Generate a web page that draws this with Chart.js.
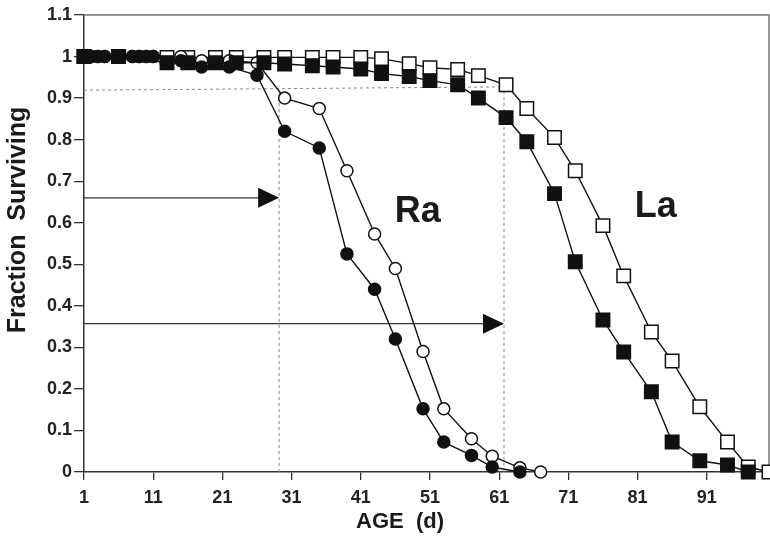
<!DOCTYPE html>
<html lang="en">
<head>
<meta charset="UTF-8">
<title>Fraction Surviving</title>
<script src="https://cdn.jsdelivr.net/npm/chart.js"></script>
<style>
    html, body { margin: 0; padding: 0; background: #fff; }
    #wrap { width: 770px; height: 538px; }
</style>
</head>
<body>
<div id="wrap"><canvas id="survival" width="770" height="538"></canvas></div>
<script>
// Ra = circles, La = squares; filled and open symbols are the two groups
const raFilledDays = [1, 2, 3, 4, 8, 9, 10, 11, 15, 18, 22, 26, 30, 35, 39, 43, 46, 50, 53, 57, 60, 64];
const raFilledSurv = [1, 1, 1, 1, 1, 1, 1, 1, 0.99, 0.975, 0.975, 0.955, 0.82, 0.78, 0.525, 0.44, 0.32, 0.152, 0.072, 0.04, 0.012, 0];

const raOpenDays = [1, 2, 3, 4, 8, 9, 10, 11, 15, 18, 22, 26, 30, 35, 39, 43, 46, 50, 53, 57, 60, 64, 67];
const raOpenSurv = [1, 1, 1, 1, 1, 1, 1, 1, 1, 0.99, 0.99, 0.985, 0.9, 0.875, 0.725, 0.573, 0.49, 0.29, 0.152, 0.08, 0.038, 0.01, 0];

const laFilledDays = [1, 6, 13, 16, 20, 23, 27, 30, 34, 37, 41, 44, 48, 51, 55, 58, 62, 65, 69, 72, 76, 79, 83, 86, 90, 94, 97];
const laFilledSurv = [1, 1, 0.985, 0.985, 0.985, 0.985, 0.985, 0.982, 0.978, 0.975, 0.97, 0.959, 0.952, 0.942, 0.932, 0.9, 0.853, 0.795, 0.67, 0.506, 0.366, 0.289, 0.193, 0.072, 0.027, 0.017, 0];

const laOpenDays = [1, 6, 13, 16, 20, 23, 27, 30, 34, 37, 41, 44, 48, 51, 55, 58, 62, 65, 69, 72, 76, 79, 83, 86, 90, 94, 97, 100];
const laOpenSurv = [1, 1, 0.998, 0.998, 0.998, 0.998, 0.998, 0.998, 0.998, 0.998, 0.998, 0.995, 0.983, 0.973, 0.969, 0.954, 0.932, 0.875, 0.805, 0.725, 0.593, 0.472, 0.337, 0.267, 0.157, 0.072, 0.012, 0];

const xTicks = [1, 11, 21, 31, 41, 51, 61, 71, 81, 91];
const yTicks = [0, 0.1, 0.2, 0.3, 0.4, 0.5, 0.6, 0.7, 0.8, 0.9, 1, 1.1];

// dashed guides [x1, y1, x2, y2] and arrows [xStart, y, xTip], in data units
const guideLines = [[1, 0.919, 61.7, 0.927], [29.2, 0, 29.2, 0.919], [61.7, 0, 61.7, 0.927]];
const arrows = [[1, 0.66, 29.2], [1, 0.357, 61.7]];

const groupLabels = [['Ra', 45.9, 0.602], ['La', 80.6, 0.614]];
const xTitle = 'AGE  (d)';
const yTitle = 'Fraction  Surviving';

const FONT = '"Liberation Sans", Arial, sans-serif';

function pts(days, surv) {
    return days.map((d, i) => ({ x: d, y: surv[i] }));
}

const extras = {
    id: 'extras',
    beforeDatasetsDraw(chart) {
        const { ctx, chartArea: a, scales: { x, y } } = chart;
        ctx.save();
        // top and right frame
        ctx.strokeStyle = '#777';
        ctx.lineWidth = 1.5;
        ctx.beginPath();
        ctx.moveTo(a.left, a.top);
        ctx.lineTo(a.right, a.top);
        ctx.lineTo(a.right, a.bottom);
        ctx.stroke();

        ctx.setLineDash([3, 3]);
        ctx.lineWidth = 1;
        ctx.strokeStyle = '#888';
        guideLines.forEach(([x1, y1, x2, y2]) => {
            ctx.beginPath();
            ctx.moveTo(x.getPixelForValue(x1), y.getPixelForValue(y1));
            ctx.lineTo(x.getPixelForValue(x2), y.getPixelForValue(y2));
            ctx.stroke();
        });
        ctx.setLineDash([]);

        ctx.strokeStyle = '#333';
        ctx.fillStyle = '#111';
        ctx.lineWidth = 1.3;
        arrows.forEach(([x1, yv, x2]) => {
            const p1 = x.getPixelForValue(x1), p2 = x.getPixelForValue(x2), py = y.getPixelForValue(yv);
            ctx.beginPath();
            ctx.moveTo(p1, py);
            ctx.lineTo(p2 - 18, py);
            ctx.stroke();
            ctx.beginPath();
            ctx.moveTo(p2, py);
            ctx.lineTo(p2 - 21, py - 10);
            ctx.lineTo(p2 - 21, py + 10);
            ctx.closePath();
            ctx.fill();
        });
        ctx.restore();
    },
    afterDatasetsDraw(chart) {
        const { ctx, scales: { x, y } } = chart;
        ctx.save();
        ctx.fillStyle = '#1a1a1a';
        ctx.font = 'bold 36px ' + FONT;
        ctx.textAlign = 'left';
        ctx.textBaseline = 'alphabetic';
        groupLabels.forEach(([t, dx, dy]) => {
            ctx.fillText(t, x.getPixelForValue(dx), y.getPixelForValue(dy));
        });

        ctx.font = 'bold 22px ' + FONT;
        ctx.textAlign = 'center';
        ctx.textBaseline = 'middle';
        ctx.fillText(xTitle, 400, 522);

        ctx.translate(18, 220);
        ctx.rotate(-Math.PI / 2);
        ctx.font = 'bold 25px ' + FONT;
        ctx.fillText(yTitle, 0, 0);
        ctx.restore();
    }
};

const axisColor = '#333';

new Chart(document.getElementById('survival'), {
    type: 'scatter',
    data: {
        datasets: [
            {
                label: 'Ra filled',
                data: pts(raFilledDays, raFilledSurv),
                pointStyle: 'circle', pointRadius: 6,
                backgroundColor: '#111', borderColor: '#111'
            },
            {
                label: 'La filled',
                data: pts(laFilledDays, laFilledSurv),
                pointStyle: 'rect', pointRadius: 9.5,
                backgroundColor: '#111', borderColor: '#111'
            },
            {
                label: 'Ra open',
                data: pts(raOpenDays, raOpenSurv),
                pointStyle: 'circle', pointRadius: 6,
                backgroundColor: '#fff', borderColor: '#111'
            },
            {
                label: 'La open',
                data: pts(laOpenDays, laOpenSurv),
                pointStyle: 'rect', pointRadius: 9.5,
                backgroundColor: '#fff', borderColor: '#111'
            }
        ].map(ds => Object.assign(ds, {
            showLine: true,
            borderWidth: 1.4,
            pointBorderWidth: 1.5,
            clip: false
        }))
    },
    plugins: [extras],
    options: {
        responsive: false,
        animation: false,
        layout: { autoPadding: false, padding: { top: 15, right: 1, left: 0, bottom: 0 } },
        plugins: {
            legend: { display: false },
            tooltip: { enabled: false }
        },
        scales: {
            x: {
                type: 'linear',
                min: 1,
                max: 100,
                afterBuildTicks: s => { s.ticks = xTicks.map(v => ({ value: v })); },
                afterFit: s => { s.height = 66; s.paddingLeft = 0; s.paddingRight = 0; },
                ticks: {
                    autoSkip: false, maxRotation: 0, padding: 7,
                    color: '#222',
                    font: { family: FONT, size: 18, weight: 'bold' }
                },
                grid: { drawOnChartArea: false, tickLength: 8, color: axisColor, lineWidth: 1.3 },
                border: { color: axisColor, width: 1.5 }
            },
            y: {
                min: 0,
                max: 1.1,
                afterBuildTicks: s => { s.ticks = yTicks.map(v => ({ value: v })); },
                afterFit: s => { s.width = 84; s.paddingTop = 0; s.paddingBottom = 0; },
                ticks: {
                    padding: 2,
                    color: '#222',
                    font: { family: FONT, size: 18, weight: 'bold' },
                    callback: v => String(Math.round(v * 10) / 10)
                },
                grid: { drawOnChartArea: false, tickLength: 10, color: axisColor, lineWidth: 1.3 },
                border: { color: axisColor, width: 1.5 }
            }
        }
    }
});
</script>
</body>
</html>
